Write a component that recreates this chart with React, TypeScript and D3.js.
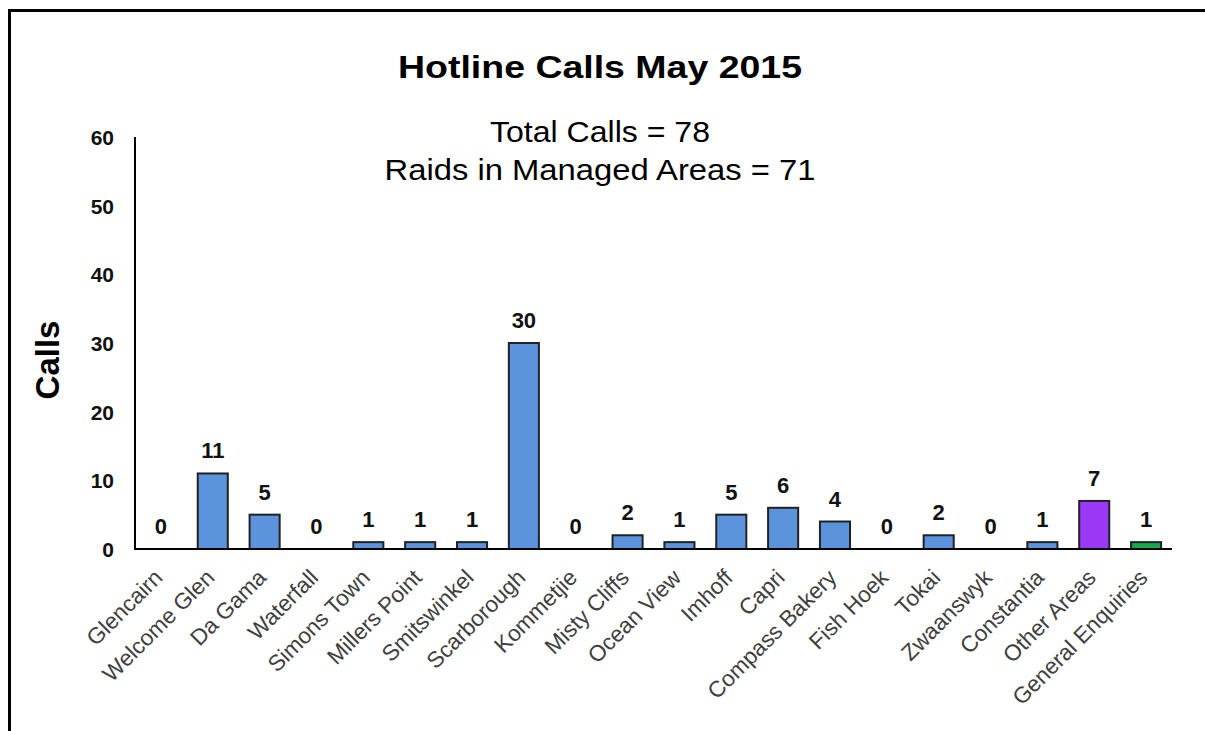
import React from "react";
import * as d3 from "d3";

const categories = ["Glencairn","Welcome Glen","Da Gama","Waterfall","Simons Town","Millers Point","Smitswinkel","Scarborough","Kommetjie","Misty Cliffs","Ocean View","Imhoff","Capri","Compass Bakery","Fish Hoek","Tokai","Zwaanswyk","Constantia","Other Areas","General Enquiries"];
const calls = [0,11,5,0,1,1,1,30,0,2,1,5,6,4,0,2,0,1,7,1];
const barColors = ["#5B93DD","#5B93DD","#5B93DD","#5B93DD","#5B93DD","#5B93DD","#5B93DD","#5B93DD","#5B93DD","#5B93DD","#5B93DD","#5B93DD","#5B93DD","#5B93DD","#5B93DD","#5B93DD","#5B93DD","#5B93DD","#9B38F5","#17A84A"];
const yTicks = [0,10,20,30,40,50,60];
const titleText = "Hotline Calls May 2015";
const subtitleLines = ["Total Calls = 78","Raids in Managed Areas = 71"];
const yTitle = "Calls";

export default function App() {
  const W = 1205, H = 731;
  const left = 135, right = 1172, top = 137, bottom = 549;
  const x = d3.scaleBand<string>().domain(categories).range([left, right]).paddingInner(0.42).paddingOuter(0.21);
  const y = d3.scaleLinear().domain([0, 60]).range([bottom, top]);
  const font = "'Liberation Sans', Arial, sans-serif";
  const subLens = [220, 431];
  return (
    <svg width={W} height={H} style={{ position: "absolute", left: 0, top: 0 }} fontFamily={font}>
      <rect x={0} y={0} width={W} height={H} fill="#fff" />
      <path d={`M9.5,${H + 5} V10.5 H${W + 5}`} fill="none" stroke="#000" strokeWidth={3} />
      <text x={398} y={78} fontSize={32} fontWeight="bold" textLength={404} lengthAdjust="spacingAndGlyphs">{titleText}</text>
      {subtitleLines.map((t, i) => (
        <text key={i} x={600 - subLens[i] / 2} y={142 + i * 38} fontSize={29} textLength={subLens[i]} lengthAdjust="spacingAndGlyphs">{t}</text>
      ))}
      <text transform={`translate(59,360) rotate(-90)`} textAnchor="middle" fontSize={33} fontWeight="bold">{yTitle}</text>
      {yTicks.map(t => (
        <text key={t} x={114} y={y(t) + 8} textAnchor="end" fontSize={21} fontWeight="bold" fill="#111">{t}</text>
      ))}
      {categories.map((c, i) => {
        const bx = x(c)!;
        const bw = x.bandwidth();
        const v = calls[i];
        const cx = bx + bw / 2;
        return (
          <g key={c}>
            {v > 0 && (
              <rect x={bx} y={y(v)} width={bw} height={bottom - y(v)} fill={barColors[i]} stroke="#222" strokeWidth={2} />
            )}
            <text x={cx} y={y(v) - 15} textAnchor="middle" fontSize={22} fontWeight="bold" fill="#111">{v}</text>
            <text transform={`translate(${cx + 3},${bottom + 30}) rotate(-45)`} textAnchor="end" fontSize={22.5} fill="#404040">{c}</text>
          </g>
        );
      })}
      <line x1={left} x2={left} y1={top} y2={bottom + 1} stroke="#000" strokeWidth={2} />
      <line x1={left - 1} x2={right} y1={bottom} y2={bottom} stroke="#000" strokeWidth={2} />
    </svg>
  );
}
